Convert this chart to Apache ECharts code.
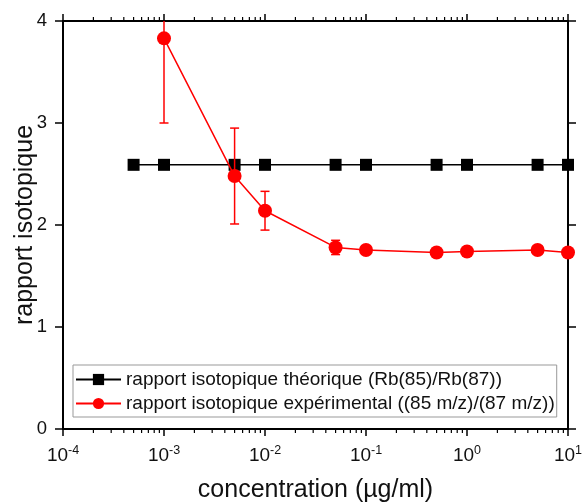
<!DOCTYPE html>
<html>
<head>
<meta charset="utf-8">
<script src="https://cdn.jsdelivr.net/npm/echarts@6/dist/echarts.min.js"></script>
<style>
html,body{margin:0;padding:0;background:#fff;}
#chart{width:582px;height:503px;}
</style>
</head>
<body>
<div id="chart"></div>
<script>
// ---- data ----
const theoConc = [5e-4, 1e-3, 5e-3, 1e-2, 5e-2, 0.1, 0.5, 1, 5, 10];
const theoRatio = [2.59, 2.59, 2.59, 2.59, 2.59, 2.59, 2.59, 2.59, 2.59, 2.59];
const expConc = [1e-3, 5e-3, 1e-2, 5e-2, 0.1, 0.5, 1, 5, 10];
const expRatio = [3.83, 2.48, 2.14, 1.78, 1.755, 1.73, 1.74, 1.755, 1.73];
const expErr = [0.83, 0.47, 0.19, 0.07, 0.03, 0.02, 0.02, 0.02, 0.02];
const seriesNames = ['rapport isotopique théorique (Rb(85)/Rb(87))', 'rapport isotopique expérimental ((85 m/z)/(87 m/z))'];
const yTicks = [0, 1, 2, 3, 4];
const xDecades = [1e-4, 1e-3, 1e-2, 1e-1, 1];
const minorMultipliers = [2, 3, 4, 5, 6, 7, 8, 9];

const FONT = '"Liberation Sans", Arial, sans-serif';
const minorTickVals = [];
xDecades.forEach(d => minorMultipliers.forEach(m => minorTickVals.push([d * m])));

const theoData = theoConc.map((c, i) => [c, theoRatio[i]]);
const expData = expConc.map((c, i) => [c, expRatio[i]]);
const errData = expConc.map((c, i) => [c, expRatio[i] - expErr[i], expRatio[i] + expErr[i]]);

const chart = echarts.init(document.getElementById('chart'), null, {renderer: 'canvas'});
const axisLineStyle = {color: '#000', width: 2};
const labelRich = {
  b: {fontFamily: FONT, fontSize: 19, color: '#111'},
  s: {fontFamily: FONT, fontSize: 12.5, color: '#111', verticalAlign: 'top', padding: [0, 0, 10, 0]}
};
const option = {
  animation: false,
  backgroundColor: '#fff',
  grid: {left: 63, right: 14, top: 21, bottom: 74, containLabel: false, outerBoundsMode: 'none'},
  legend: {
    orient: 'vertical',
    left: 73, top: 365,
    data: seriesNames,
    itemWidth: 45, itemHeight: 14, itemGap: 5,
    padding: [5, 2, 4, 2],
    borderColor: '#999', borderWidth: 1,
    textStyle: {fontFamily: FONT, fontSize: 19, color: '#111'}
  },
  xAxis: [
    {
      type: 'log', logBase: 10, min: 1e-4, max: 10, position: 'bottom',
      name: 'concentration (µg/ml)', nameLocation: 'middle', nameGap: 49, nameMoveOverlap: false,
      nameTextStyle: {fontFamily: FONT, fontSize: 25, color: '#111'},
      axisLine: {onZero: false, lineStyle: axisLineStyle},
      axisTick: {inside: false, length: 7, lineStyle: {color: '#000', width: 1.5}},
      splitLine: {show: false},
      minorTick: {show: false},
      axisLabel: {
        margin: 15,
        formatter: v => '{b|10}{s|' + Math.round(Math.log10(v)) + '}',
        rich: labelRich
      }
    },
    {
      type: 'log', logBase: 10, min: 1e-4, max: 10, position: 'top',
      axisLine: {onZero: false, lineStyle: axisLineStyle},
      axisTick: {inside: false, length: 7, lineStyle: {color: '#000', width: 1.5}},
      axisLabel: {show: false}, splitLine: {show: false}
    }
  ],
  yAxis: [
    {
      type: 'value', min: 0, max: 4, interval: 1, position: 'left',
      name: 'rapport isotopique', nameLocation: 'middle', nameGap: 25, nameMoveOverlap: false,
      nameTextStyle: {fontFamily: FONT, fontSize: 25, color: '#111'},
      axisLine: {show: true, onZero: false, lineStyle: axisLineStyle},
      axisTick: {show: true, inside: false, length: 8, lineStyle: {color: '#000', width: 1.5}},
      splitLine: {show: false},
      axisLabel: {fontFamily: FONT, fontSize: 18.5, color: '#111', margin: 16, formatter: v => yTicks.includes(v) ? String(v) : ''}
    },
    {
      type: 'value', min: 0, max: 4, interval: 1, position: 'right',
      axisLine: {show: true, onZero: false, lineStyle: axisLineStyle},
      axisTick: {show: true, inside: false, length: 8, lineStyle: {color: '#000', width: 1.5}},
      splitLine: {show: false},
      axisLabel: {show: false}
    }
  ],
  series: [
    {
      name: 'minorTicks', type: 'custom', xAxisIndex: 0, yAxisIndex: 0, clip: false,
      silent: true, data: minorTickVals, encode: {x: 0},
      renderItem: (params, api) => {
        const v = api.value(0);
        const b = api.coord([v, 0]);
        const t = api.coord([v, 4]);
        const len = 4;
        const style = {stroke: '#000', lineWidth: 1.2};
        return {
          type: 'group',
          children: [
            {type: 'line', shape: {x1: b[0], y1: b[1], x2: b[0], y2: b[1] + len}, style},
            {type: 'line', shape: {x1: t[0], y1: t[1], x2: t[0], y2: t[1] - len}, style}
          ]
        };
      },
      z: 1
    },
    {
      name: seriesNames[0], type: 'line', xAxisIndex: 0, yAxisIndex: 0,
      data: theoData, symbol: 'rect', symbolSize: 12,
      lineStyle: {color: '#000', width: 1.5}, itemStyle: {color: '#000'},
      z: 3
    },
    {
      name: 'err', type: 'custom', xAxisIndex: 0, yAxisIndex: 0, clip: true,
      data: errData, encode: {x: 0, y: [1, 2]},
      renderItem: (params, api) => {
        const x = api.value(0);
        const lo = api.coord([x, api.value(1)]);
        const hi = api.coord([x, api.value(2)]);
        const w = 4.5;
        const style = {stroke: '#ff0000', lineWidth: 1.5};
        return {
          type: 'group',
          children: [
            {type: 'line', shape: {x1: lo[0], y1: lo[1], x2: hi[0], y2: hi[1]}, style},
            {type: 'line', shape: {x1: lo[0] - w, y1: lo[1], x2: lo[0] + w, y2: lo[1]}, style},
            {type: 'line', shape: {x1: hi[0] - w, y1: hi[1], x2: hi[0] + w, y2: hi[1]}, style}
          ]
        };
      },
      z: 4
    },
    {
      name: seriesNames[1], type: 'line', xAxisIndex: 0, yAxisIndex: 0,
      data: expData, symbol: 'circle', symbolSize: 14,
      lineStyle: {color: '#ff0000', width: 1.5}, itemStyle: {color: '#ff0000'},
      z: 5
    }
  ]
};
chart.setOption(option);
</script>
</body>
</html>
